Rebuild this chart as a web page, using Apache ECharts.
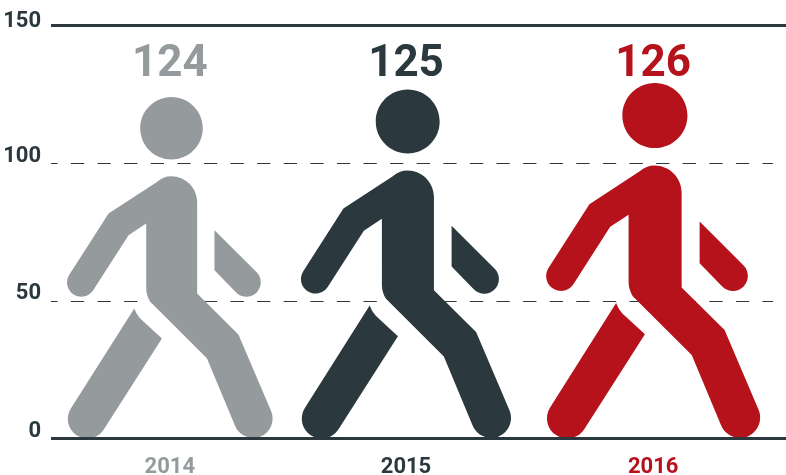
<!DOCTYPE html>
<html lang="en">
<head>
    <meta charset="utf-8">
    <title>Walking figures</title>
    <script src="https://cdn.jsdelivr.net/npm/echarts@6/dist/echarts.min.js"></script>
    <style>
        html, body { margin: 0; padding: 0; background: #fff; }
        #main { width: 786px; height: 475px; }
    </style>
</head>
<body>
<div id="main"></div>
<script>
    var years = ['2014', '2015', '2016'];
    // numbers printed above the figures
    var totals = [124, 125, 126];
    // height of each figure read against the axis (the artwork is taller than its number)
    var figureHeights = [124.1, 126.8, 129.2];
    var totalLabelLevel = [135.9, 135.9, 135.9];
    var yTicks = [0, 50, 100, 150];
    var colors = ['#959b9d', '#2b383e', '#b5121b'];
    // the middle figure sits a little left of its band centre
    var nudge = [0, -5.5, 0];

    // head, body with front arm and leg, back arm, back leg
    var figure = 'path://M171.3 96.7C188.59 96.7 202.6 110.71 202.6 128C202.6 145.29 188.59 159.3 171.3 159.3' +
        'C154.01 159.3 140 145.29 140 128C140 110.71 154.01 96.7 171.3 96.7Z' +
        'M171 176C185.36 176 197 187.64 197 202L197 293.3L238.3 334.3L271 410.9' +
        'C275.19 420.82 270.52 432.31 260.6 436.5C250.68 440.69 239.19 436.02 235 426.1' +
        'L206.7 358.3L150 301.7Q146 295 146 288.3L146 223.3L128.3 235L93.05 289.98' +
        'C88.81 296.64 79.98 298.59 73.32 294.35C66.66 290.11 64.71 281.28 68.95 274.62' +
        'L108.3 213.3L156.7 181.7Q163 176 171 176Z' +
        'M214.3 230L256.58 272.22C262.15 277.9 262.06 287.02 256.38 292.58C250.7 298.14 241.59 298.06 236.02 292.38L214.3 270Z' +
        'M134 308.3Q136 314 140 318.3L161.7 338.3L103.5 429.4' +
        'C97.76 438.51 85.71 441.24 76.6 435.5C67.49 429.76 64.76 417.71 70.5 408.6Z';

    var fontName = 'Roboto, "Liberation Sans", sans-serif';
    var ink = '#2b383e';
    var plotHeight = 412.8;
    var figureAspect = 0.602;

    var myChart = echarts.init(document.getElementById('main'), null, {renderer: 'canvas'});

    var option = {
        animation: false,
        backgroundColor: '#fff',
        grid: [
            {left: 49, width: 725, top: 25.7, height: plotHeight, outerBoundsMode: 'none'},
            {left: 51, width: 735, top: 25.7, height: plotHeight},
            {left: 51, width: 722, top: 25.7, height: plotHeight}
        ],
        xAxis: [{
            type: 'category',
            gridIndex: 0,
            data: years,
            axisLine: {show: false},
            axisTick: {show: false},
            axisLabel: {
                margin: 18,
                formatter: function (value, index) {
                    return '{y' + index + '|' + value + '}';
                },
                rich: {
                    y0: {color: colors[0], fontFamily: fontName, fontWeight: 'bold', fontSize: 22},
                    y1: {color: colors[1], fontFamily: fontName, fontWeight: 'bold', fontSize: 22, padding: [0, 11, 0, 0]},
                    y2: {color: colors[2], fontFamily: fontName, fontWeight: 'bold', fontSize: 22}
                }
            }
        }, {
            type: 'category',
            gridIndex: 1,
            data: years,
            axisLine: {show: false},
            axisTick: {show: false},
            axisLabel: {show: false}
        }, {
            type: 'category',
            gridIndex: 2,
            data: years,
            axisLine: {show: false},
            axisTick: {show: false},
            axisLabel: {show: false}
        }],
        yAxis: [{
            type: 'value',
            gridIndex: 0,
            min: 0,
            max: 150,
            interval: 50,
            axisLine: {show: false},
            axisTick: {show: false},
            splitLine: {show: false},
            axisLabel: {
                margin: 8,
                formatter: function (value) {
                    return (value === yTicks[3] ? '{top|' : '{tick|') + value + '}';
                },
                rich: {
                    tick: {color: ink, fontFamily: fontName, fontWeight: 'bold', fontSize: 22, padding: [0, 0, 14, 0]},
                    top: {color: ink, fontFamily: fontName, fontWeight: 'bold', fontSize: 22, padding: [0, 0, 8, 0]}
                }
            }
        }, {
            // solid rules at 0 and 150, over the feet
            type: 'value',
            gridIndex: 1,
            min: 0,
            max: 150,
            interval: 150,
            z: 5,
            axisLine: {show: false},
            axisTick: {show: false},
            axisLabel: {show: false},
            splitLine: {lineStyle: {color: ink, width: 3}}
        }, {
            // dashed rules at 50 and 100
            type: 'value',
            gridIndex: 2,
            min: 0,
            max: 150,
            interval: 50,
            axisLine: {show: false},
            axisTick: {show: false},
            axisLabel: {show: false},
            splitLine: {lineStyle: {color: ink, width: 1, type: [13.3, 13.3], dashOffset: 6.7}}
        }],
        series: [{
            type: 'pictorialBar',
            xAxisIndex: 0,
            yAxisIndex: 0,
            barCategoryGap: 0,
            symbol: figure,
            symbolSize: function (value) {
                var h = value / 150 * plotHeight;
                return [h * figureAspect, h];
            },
            symbolPosition: 'start',
            data: figureHeights.map(function (h, i) {
                return {
                    value: h,
                    symbolOffset: [nudge[i], 0],
                    itemStyle: {color: colors[i]}
                };
            })
        }, {
            type: 'scatter',
            xAxisIndex: 0,
            yAxisIndex: 0,
            symbolSize: 1,
            itemStyle: {color: 'transparent', opacity: 1},
            data: totalLabelLevel.map(function (v, i) {
                return {
                    value: v,
                    label: {
                        show: true,
                        position: 'inside',
                        offset: [nudge[i], 0],
                        formatter: String(totals[i]),
                        color: colors[i],
                        fontFamily: fontName,
                        fontWeight: 'bold',
                        fontSize: 44
                    }
                };
            })
        }]
    };

    myChart.setOption(option);
</script>
</body>
</html>
